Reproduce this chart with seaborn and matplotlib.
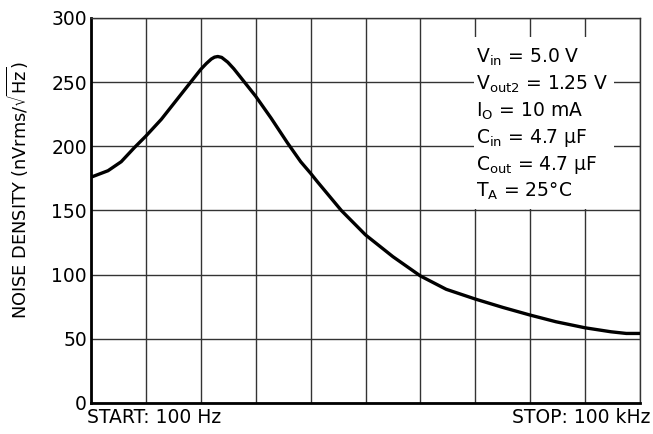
import matplotlib
matplotlib.use("Agg")
import matplotlib.pyplot as plt
import seaborn as sns
import pandas as pd
from matplotlib.patches import Rectangle

# sweep position in screen divisions (0 = START 100 Hz, 10 = STOP 100 kHz)
sweep_div = [0.0, 0.04, 0.31, 0.55, 0.79, 1.0, 1.28, 1.52, 1.76, 2.0, 2.1, 2.19, 2.25,
             2.31, 2.38, 2.49, 2.6, 2.74, 3.0, 3.28, 3.58, 3.82, 4.0, 4.12, 4.56, 5.0,
             5.5, 6.0, 6.47, 7.0, 7.5, 8.0, 8.47, 9.0, 9.47, 9.75, 10.0]
noise = [176, 176.6, 181, 188, 199, 208, 221, 234, 247, 260, 264.5, 268, 269.5,
         270, 269.3, 265.6, 260.5, 253, 239, 222, 202.6, 188, 179, 172.6, 150, 131,
         114, 99, 88.6, 81, 74.5, 68.5, 63.3, 58.6, 55.5, 54.2, 54.2]
y_ticks = [0, 50, 100, 150, 200, 250, 300]
conditions = [r"V$_{\mathrm{in}}$ = 5.0 V",
              r"V$_{\mathrm{out2}}$ = 1.25 V",
              r"I$_{\mathrm{O}}$ = 10 mA",
              r"C$_{\mathrm{in}}$ = 4.7 µF",
              r"C$_{\mathrm{out}}$ = 4.7 µF",
              r"T$_{\mathrm{A}}$ = 25°C"]

sns.set_style("white")
plt.rcParams['font.family'] = ['DejaVu Sans']
plt.rcParams['mathtext.fontset'] = 'dejavusans'
for key in ['text.color', 'axes.labelcolor', 'xtick.color', 'ytick.color']:
    plt.rcParams[key] = 'black'

fig = plt.figure(figsize=(6.53, 4.34), dpi=100)
ax = fig.add_axes([91/653, 31/434, 549/653, 385/434])

df = pd.DataFrame({"div": sweep_div, "noise": noise})
sns.lineplot(data=df, x="div", y="noise", ax=ax, color="black", linewidth=2.4, zorder=5)

ax.set_xlim(0, 10)
ax.set_ylim(0, 300)
ax.set_xticks(range(0, 11))
ax.set_xticklabels([])
ax.set_yticks(y_ticks)
ax.set_yticklabels([str(t) for t in y_ticks], fontsize=13.5)
ax.tick_params(axis='both', length=0, pad=3)
ax.grid(True, color="#333333", linewidth=1.0)
ax.set_axisbelow(True)
ax.set_xlabel("")
ax.set_ylabel(r"NOISE DENSITY (nVrms/$\sqrt{\mathrm{Hz}}$)", fontsize=12.8)
ax.yaxis.set_label_coords(-0.109, 0.553)

for side in ["left", "bottom"]:
    ax.spines[side].set_linewidth(2.0)
    ax.spines[side].set_color("black")
for side in ["top", "right"]:
    ax.spines[side].set_linewidth(1.0)
    ax.spines[side].set_color("#333333")

# white box behind the conditions
ax.add_patch(Rectangle((0.698, 0.505), 0.255, 0.445, transform=ax.transAxes,
                       facecolor="white", edgecolor="none", zorder=3))
y0 = 0.897
for i, line in enumerate(conditions):
    ax.text(0.702, y0 - i * 0.0695, line, transform=ax.transAxes, fontsize=13.5,
            va="center", ha="left", zorder=4)

ax.text(-0.007, -0.012, "START: 100 Hz", transform=ax.transAxes, fontsize=13.5,
        va="top", ha="left")
ax.text(1.018, -0.012, "STOP: 100 kHz", transform=ax.transAxes, fontsize=13.5,
        va="top", ha="right")

fig.savefig("out.png", dpi=100)
